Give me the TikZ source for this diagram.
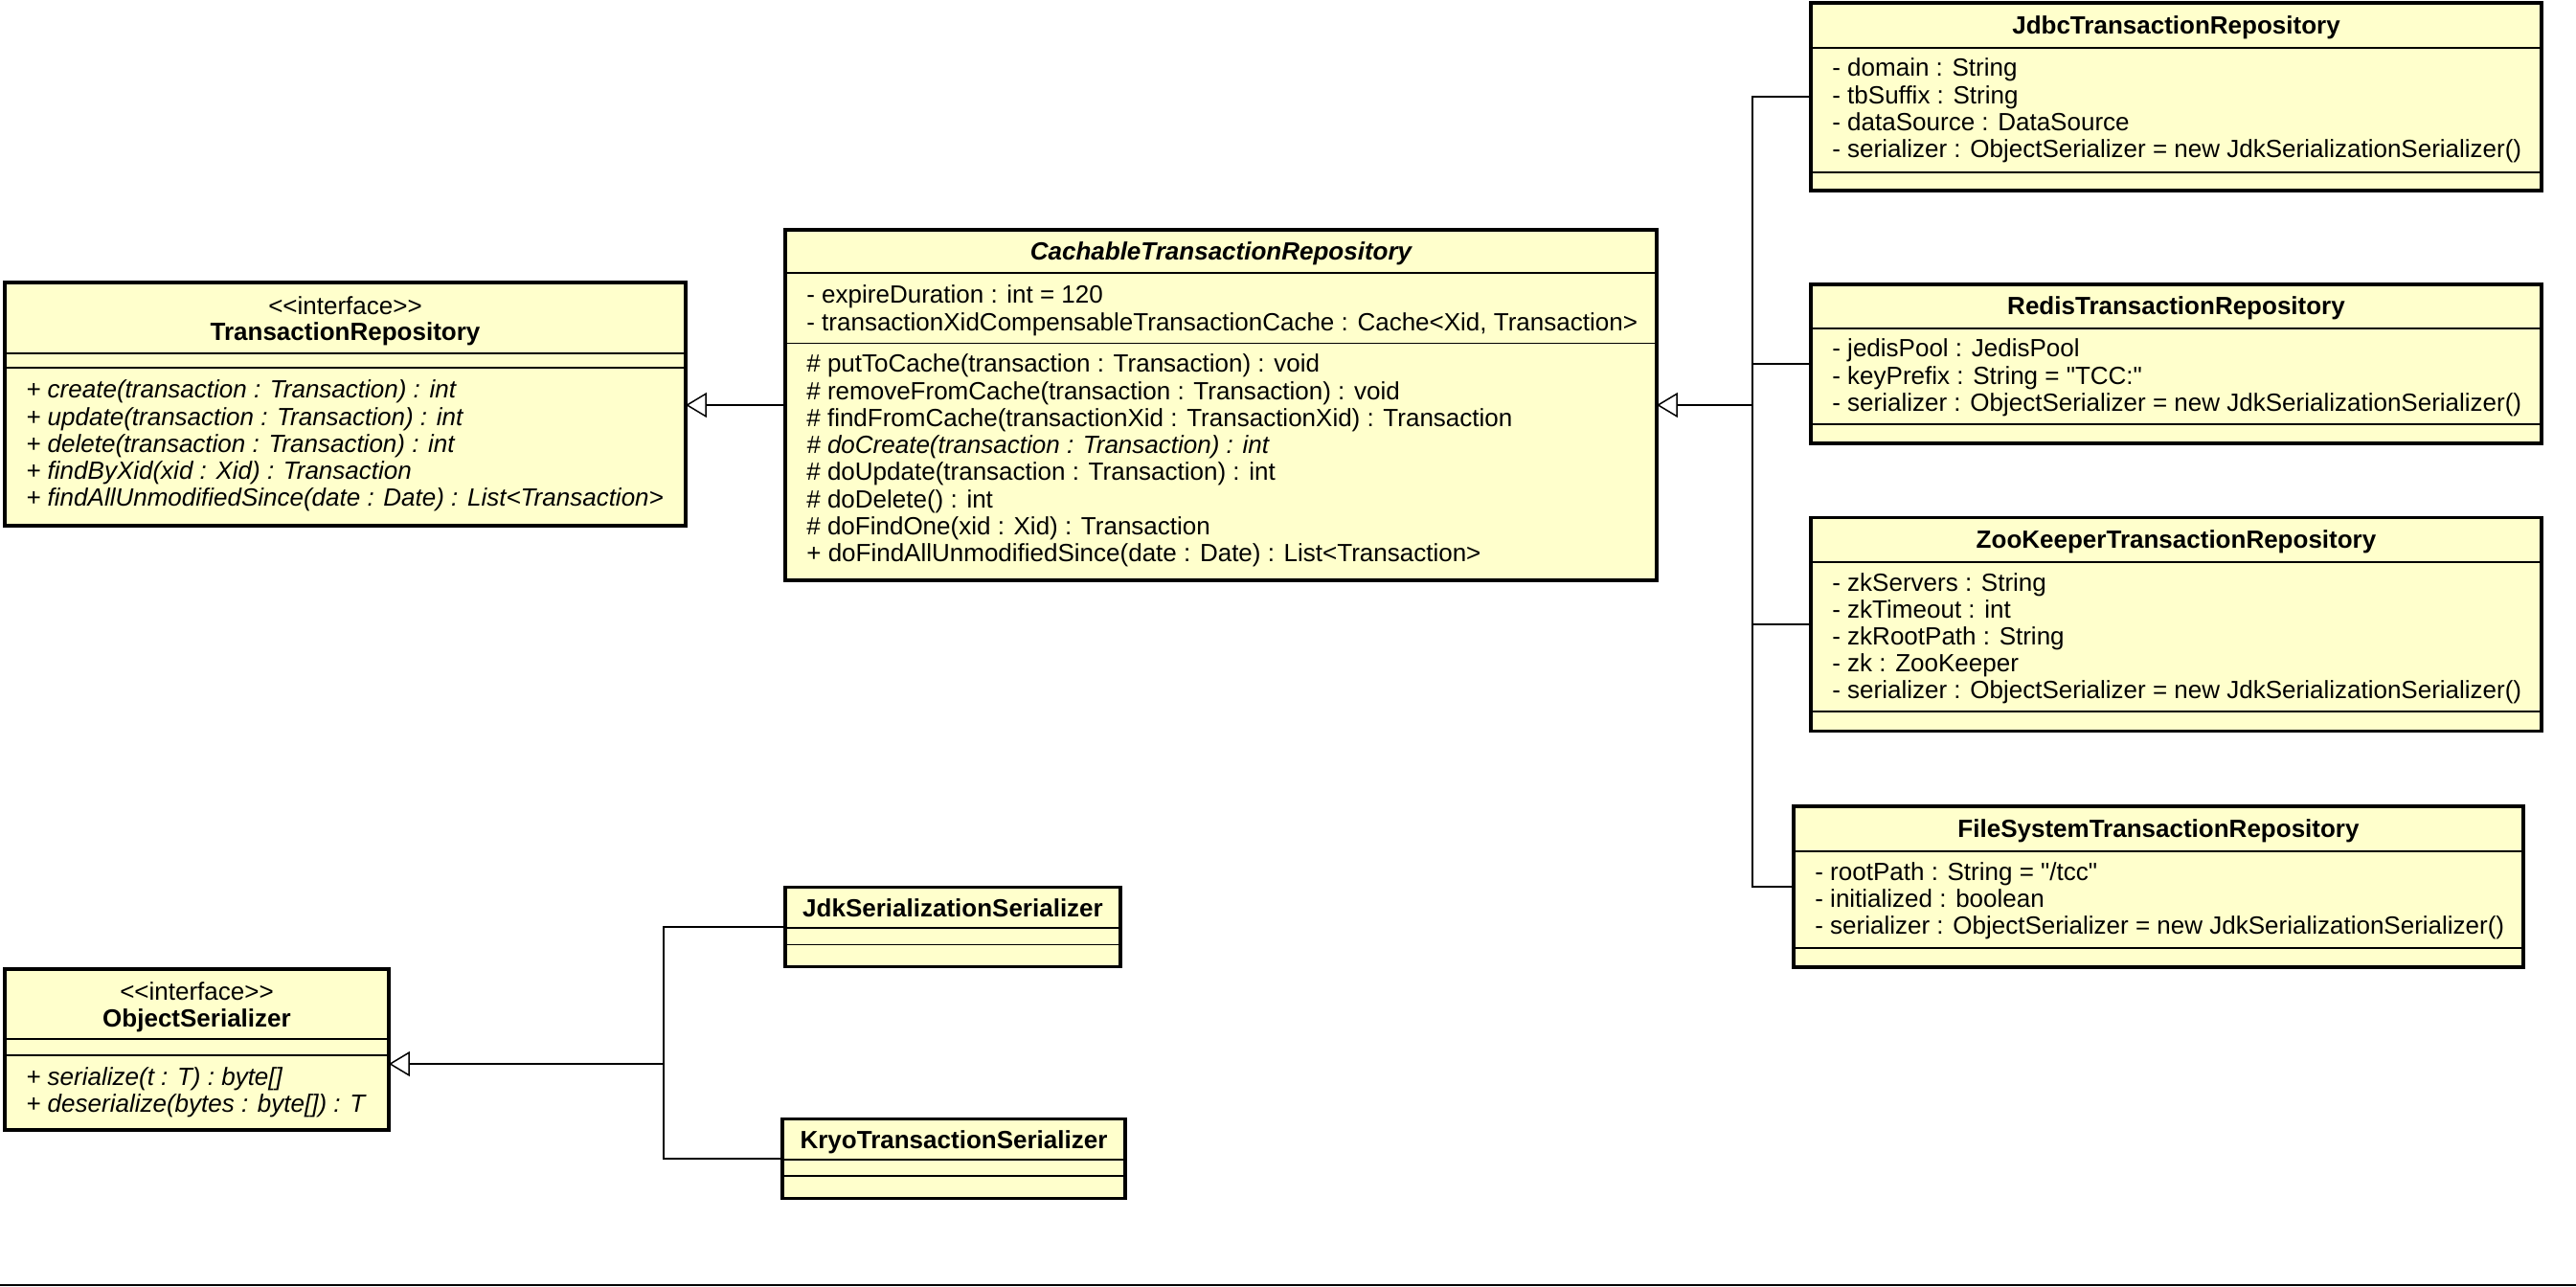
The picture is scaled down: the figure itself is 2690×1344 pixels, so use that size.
\documentclass[tikz,border=0pt]{standalone}
\usepackage{fontspec}
\setmainfont{Liberation Sans}
\usepackage{xcolor}
\usetikzlibrary{arrows.meta,positioning,calc}

\definecolor{umlfill}{HTML}{FFFFCC}
\newcommand{\px}{0.02cm}
\newcommand{\umlfont}{\fontsize{14.8}{17}\selectfont}

\tikzset{
  classbox/.style={draw, line width=2pt, fill=umlfill, rectangle, anchor=north west, inner sep=0pt, outer sep=0pt},
  sepline/.style={line width=0.85pt},
  member/.style={anchor=base west, inner sep=0pt, font=\umlfont},
  classname/.style={anchor=base, inner sep=0pt, font=\umlfont\bfseries},
  stereo/.style={anchor=base, inner sep=0pt, font=\umlfont},
  realize/.style={line width=0.8pt, -{Triangle[open, length=12.5pt, width=14.8pt, line width=0.85pt]}},
  branch/.style={line width=0.9pt}
}

\begin{document}
\begin{tikzpicture}[x=0.02cm, y=-0.02cm]
\useasboundingbox (0,0) rectangle (2690,1344);

% interface TransactionRepository
\node[classbox, minimum width=711*\px, minimum height=254*\px] (trepo) at (5,295) {};
\draw[sepline] (5,369) -- (716,369);
\draw[sepline] (5,384) -- (716,384);
\node[stereo] (trepo-s) at (360.5,329) {<{}<interface>{}>};
\node[classname] (trepo-t) at (360.5,356) {TransactionRepository};
\foreach \t [count=\i from 0] in {{+ create(transaction : Transaction) : int},
    {+ update(transaction : Transaction) : int},
    {+ delete(transaction : Transaction) : int},
    {+ findByXid(xid : Xid) : Transaction},
    {+ findAllUnmodifiedSince(date : Date) : List<Transaction>}}
  \node[member, font=\umlfont\itshape] (trepo-m\i) at (27,{416+28.2*\i}) {\t};

% abstract CachableTransactionRepository
\node[classbox, minimum width=910*\px, minimum height=366*\px] (cache) at (820,240) {};
\draw[sepline] (820,285) -- (1730,285);
\draw[sepline] (820,358.5) -- (1730,358.5);
\node[classname, font=\umlfont\bfseries\itshape] (cache-t) at (1275,272) {CachableTransactionRepository};
\foreach \t [count=\i from 0] in {{- expireDuration : int = 120},
    {- transactionXidCompensableTransactionCache : Cache<Xid, Transaction>}}
  \node[member] (cache-a\i) at (842,{317+28.2*\i}) {\t};
\foreach \t [count=\i from 0] in {{\# putToCache(transaction : Transaction) : void},
    {\# removeFromCache(transaction : Transaction) : void},
    {\# findFromCache(transactionXid : TransactionXid) : Transaction},
    {\itshape\# doCreate(transaction : Transaction) : int},
    {\# doUpdate(transaction : Transaction) : int},
    {\# doDelete() : int},
    {\# doFindOne(xid : Xid) : Transaction},
    {+ doFindAllUnmodifiedSince(date : Date) : List<Transaction>}}
  \node[member] (cache-m\i) at (842,{389+28.2*\i}) {\t};

% JdbcTransactionRepository
\node[classbox, minimum width=763*\px, minimum height=196*\px] (jdbc) at (1891,3) {};
\draw[sepline] (1891,50) -- (2654,50);
\draw[sepline] (1891,180) -- (2654,180);
\node[classname] (jdbc-t) at (2272.5,35.5) {JdbcTransactionRepository};
\foreach \t [count=\i from 0] in {{- domain : String},
    {- tbSuffix : String},
    {- dataSource : DataSource},
    {- serializer : ObjectSerializer = new JdkSerializationSerializer()}}
  \node[member] (jdbc-a\i) at (1913,{80+28.2*\i}) {\t};

% RedisTransactionRepository
\node[classbox, minimum width=763*\px, minimum height=166*\px] (redis) at (1891,297) {};
\draw[sepline] (1891,343) -- (2654,343);
\draw[sepline] (1891,443) -- (2654,443);
\node[classname] (redis-t) at (2272.5,329) {RedisTransactionRepository};
\foreach \t [count=\i from 0] in {{- jedisPool : JedisPool},
    {- keyPrefix : String = \textquotedbl TCC:\textquotedbl},
    {- serializer : ObjectSerializer = new JdkSerializationSerializer()}}
  \node[member] (redis-a\i) at (1913,{373+28.2*\i}) {\t};

% ZooKeeperTransactionRepository
\node[classbox, minimum width=763*\px, minimum height=223*\px] (zk) at (1891,540.5) {};
\draw[sepline] (1891,587) -- (2654,587);
\draw[sepline] (1891,743) -- (2654,743);
\node[classname] (zk-t) at (2272.5,572.5) {ZooKeeperTransactionRepository};
\foreach \t [count=\i from 0] in {{- zkServers : String},
    {- zkTimeout : int},
    {- zkRootPath : String},
    {- zk : ZooKeeper},
    {- serializer : ObjectSerializer = new JdkSerializationSerializer()}}
  \node[member] (zk-a\i) at (1913,{617+28.2*\i}) {\t};

% FileSystemTransactionRepository
\node[classbox, minimum width=762*\px, minimum height=168*\px] (fs) at (1873,842) {};
\draw[sepline] (1873,889) -- (2635,889);
\draw[sepline] (1873,990) -- (2635,990);
\node[classname] (fs-t) at (2254,874) {FileSystemTransactionRepository};
\foreach \t [count=\i from 0] in {{- rootPath : String = \textquotedbl/tcc\textquotedbl},
    {- initialized : boolean},
    {- serializer : ObjectSerializer = new JdkSerializationSerializer()}}
  \node[member] (fs-a\i) at (1895,{919+28.2*\i}) {\t};

% interface ObjectSerializer
\node[classbox, minimum width=401*\px, minimum height=168*\px] (objser) at (5,1012) {};
\draw[sepline] (5,1085) -- (406,1085);
\draw[sepline] (5,1102) -- (406,1102);
\node[stereo] (objser-s) at (205.5,1044) {<{}<interface>{}>};
\node[classname] (objser-t) at (205.5,1072) {ObjectSerializer};
\foreach \t [count=\i from 0] in {{+ serialize(t : T) : byte[]},
    {+ deserialize(bytes : byte[]) : T}}
  \node[member, font=\umlfont\itshape] (objser-m\i) at (27,{1133+28.2*\i}) {\t};

% JdkSerializationSerializer
\node[classbox, minimum width=350*\px, minimum height=83*\px] (jdk) at (820,926.5) {};
\draw[sepline] (820,969) -- (1170,969);
\draw[sepline] (820,986.5) -- (1170,986.5);
\node[classname] (jdk-t) at (995,957) {JdkSerializationSerializer};

% KryoTransactionSerializer
\node[classbox, minimum width=358*\px, minimum height=83*\px] (kryo) at (817,1168.5) {};
\draw[sepline] (817,1211) -- (1175,1211);
\draw[sepline] (817,1228) -- (1175,1228);
\node[classname] (kryo-t) at (996,1199) {KryoTransactionSerializer};

% generalisation connectors
\coordinate (hubR) at (1830,423);
\coordinate (hubS) at (693,1111);
\draw[realize] (cache.west) -- (cache.west -| trepo.east);
\draw[realize, line width=1.5pt] (hubR) -- (hubR -| cache.east);
\draw[branch] (jdbc.west) -- (jdbc.west -| hubR) -- (fs.west -| hubR) -- (fs.west);
\draw[branch] (redis.west) -- (redis.west -| hubR);
\draw[branch] (zk.west) -- (zk.west -| hubR);
\draw[realize] (hubS) -- (hubS -| objser.east);
\draw[branch] (jdk.west) -- (jdk.west -| hubS) -- (kryo.west -| hubS) -- (kryo.west);

% bottom rule
\draw[line width=1.2pt] (0,1342) -- (2690,1342);
\end{tikzpicture}
\end{document}
